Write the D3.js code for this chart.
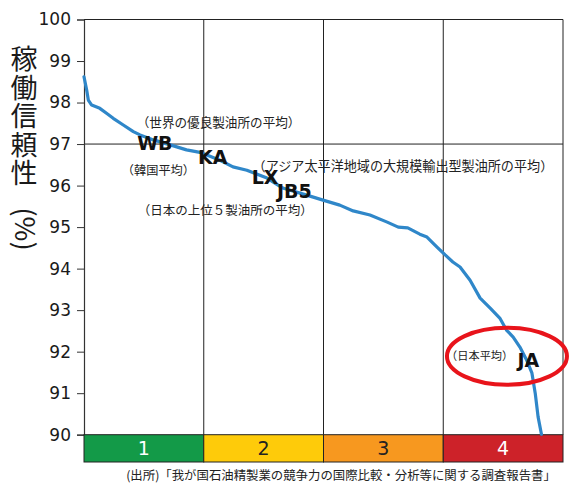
<!DOCTYPE html>
<html>
<head>
<meta charset="utf-8">
<script src="https://cdn.jsdelivr.net/npm/d3@7/dist/d3.min.js"></script>
<style>
  html, body { margin: 0; padding: 0; background: #fff; }
  svg { display: block; }
</style>
</head>
<body>
<svg id="chart" width="573" height="484"></svg>
<script>
// Refinery availability (%) ranked from best to worst, by percentile of refineries
const percentile = [0, 0.56, 0.9, 1.6, 3.3, 4.7, 6.1, 8.2, 10.3, 11.7, 14.5, 18.0, 21.4, 24.2,
  28.4, 31.1, 34.0, 38.2, 41.5, 46.5, 49.9, 53.4, 56.2, 59.7, 63.3, 65.6, 67.6, 70.1, 71.6,
  73.7, 75.4, 77.0, 78.5, 80.6, 82.7, 84.8, 86.8, 88.2, 89.6, 91.0, 92.4, 93.5, 94.2, 94.8, 95.5];
const availability = [98.62, 98.30, 98.06, 97.94, 97.86, 97.74, 97.62, 97.46, 97.30, 97.22, 97.10,
  96.98, 96.86, 96.80, 96.61, 96.45, 96.37, 96.18, 95.94, 95.77, 95.65, 95.53, 95.39, 95.29,
  95.12, 95.00, 94.98, 94.83, 94.76, 94.52, 94.33, 94.16, 94.04, 93.72, 93.29, 93.05, 92.81,
  92.52, 92.35, 92.11, 91.80, 91.49, 91.00, 90.43, 90.01];

const yTicks = [90, 91, 92, 93, 94, 95, 96, 97, 98, 99, 100];
const quartiles = ["1", "2", "3", "4"];
const quartileColors = ["#139a48", "#fecb0a", "#f7981f", "#cd2229"];
const quartileTextColors = ["#ffffff", "#222222", "#222222", "#ffffff"];
const worldBest = 97;

const titleChars = ["稼", "働", "信", "頼", "性"];
const titleUnit = "(%)";
const sourceNote = "(出所)「我が国石油精製業の競争力の国際比較・分析等に関する調査報告書」";

const svg = d3.select("#chart");
const plotLeft = 84, plotRight = 563, plotTop = 19.5, plotBottom = 434.7, bandBottom = 462;

const x = d3.scaleLinear().domain([0, 100]).range([plotLeft, plotRight]);
const y = d3.scaleLinear().domain([90, 100]).range([plotBottom, plotTop]);
const xq = d3.scaleBand().domain(quartiles).range([plotLeft, plotRight]);

const jp = "'Noto Sans CJK JP', 'Noto Sans', sans-serif";

// quartile boundaries (vertical grid)
svg.append("g").selectAll("line").data(quartiles.slice(1)).join("line")
  .attr("x1", d => xq(d)).attr("x2", d => xq(d))
  .attr("y1", plotTop).attr("y2", plotBottom)
  .attr("stroke", "#222").attr("stroke-width", 1);

// world best average reference line
svg.append("line")
  .attr("x1", plotLeft).attr("x2", plotRight)
  .attr("y1", y(worldBest)).attr("y2", y(worldBest))
  .attr("stroke", "#222").attr("stroke-width", 1);

// frame: top and right edge
svg.append("path")
  .attr("d", `M${plotLeft},${plotTop}H${plotRight}V${plotBottom}`)
  .attr("fill", "none").attr("stroke", "#222").attr("stroke-width", 1);

// y axis
const yAxis = d3.axisLeft(y).tickValues(yTicks).tickSize(7).tickPadding(6).tickFormat(d3.format("d"));
const gy = svg.append("g").attr("transform", `translate(${plotLeft},0)`).call(yAxis);
gy.select(".domain").attr("stroke", "#333").attr("stroke-width", 1.2);
gy.selectAll(".tick line").attr("stroke", "#333");
gy.selectAll(".tick text")
  .attr("font-family", "'DejaVu Sans', Verdana, sans-serif")
  .attr("font-size", 17).attr("fill", "#1a1a1a");

// quartile band
const band = svg.append("g");
band.selectAll("rect").data(quartiles).join("rect")
  .attr("x", d => xq(d)).attr("y", plotBottom)
  .attr("width", xq.bandwidth()).attr("height", bandBottom - plotBottom)
  .attr("fill", (d, i) => quartileColors[i])
  .attr("stroke", "#222").attr("stroke-width", 1);
band.selectAll("text").data(quartiles).join("text")
  .attr("x", d => xq(d) + xq.bandwidth() / 2).attr("y", (plotBottom + bandBottom) / 2 + 7)
  .attr("text-anchor", "middle")
  .attr("font-family", "'DejaVu Sans', Verdana, sans-serif").attr("font-size", 19)
  .attr("fill", (d, i) => quartileTextColors[i])
  .text(d => d);

// availability curve
const pts = percentile.map((p, i) => [p, availability[i]]);
svg.append("path").datum(pts)
  .attr("d", d3.line().x(d => x(d[0])).y(d => y(d[1])).curve(d3.curveLinear))
  .attr("fill", "none").attr("stroke", "#2f87c9").attr("stroke-width", 3.2)
  .attr("stroke-linejoin", "round").attr("stroke-linecap", "round");

// refinery group labels
const codes = [
  { t: "WB", px: 11.1, v: 96.85 },
  { t: "KA", px: 23.8, v: 96.51 },
  { t: "LX", px: 35.0, v: 96.03 },
  { t: "JB5", px: 40.3, v: 95.71 },
  { t: "JA", px: 90.5, v: 91.62 }
];
svg.append("g").selectAll("text").data(codes).join("text")
  .attr("x", d => x(d.px)).attr("y", d => y(d.v))
  .attr("font-family", "'DejaVu Sans', Verdana, sans-serif")
  .attr("font-weight", "bold").attr("font-size", 19).attr("fill", "#111")
  .text(d => d.t);

const notes = [
  { t: "（世界の優良製油所の平均）", px: 11.0, v: 97.42, fs: 12.6 },
  { t: "（韓国平均）", px: 7.9, v: 96.25, fs: 12.2 },
  { t: "（日本の上位５製油所の平均）", px: 11.2, v: 95.28, fs: 12.5 },
  { t: "（アジア太平洋地域の大規模輸出型製油所の平均）", px: 35.2, v: 96.36, fs: 13.1 },
  { t: "（日本平均）", px: 75.6, v: 91.81, fs: 11.2 }
];
svg.append("g").selectAll("text").data(notes).join("text")
  .attr("x", d => x(d.px)).attr("y", d => y(d.v))
  .attr("font-family", jp).attr("font-size", d => d.fs).attr("fill", "#222")
  .text(d => d.t);

// highlight around Japan average
svg.append("ellipse")
  .attr("cx", x(88.3)).attr("cy", y(91.89))
  .attr("rx", 60).attr("ry", 28.5)
  .attr("fill", "none").attr("stroke", "#e8141b").attr("stroke-width", 4);

// y axis title, stacked vertically
const title = svg.append("g");
title.selectAll("text").data(titleChars).join("text")
  .attr("x", 24).attr("y", (d, i) => 69 + i * 28.5)
  .attr("text-anchor", "middle")
  .attr("font-family", jp).attr("font-size", 27).attr("fill", "#1a1a1a")
  .text(d => d);
title.append("text")
  .attr("transform", "translate(15,229) rotate(90)")
  .attr("text-anchor", "middle")
  .attr("font-family", jp).attr("font-size", 27).attr("fill", "#1a1a1a")
  .text(titleUnit);

// source note
svg.append("text")
  .attr("x", 341).attr("y", 480)
  .attr("text-anchor", "middle")
  .attr("font-family", jp).attr("font-size", 12.4).attr("fill", "#222")
  .text(sourceNote);
</script>
</body>
</html>
